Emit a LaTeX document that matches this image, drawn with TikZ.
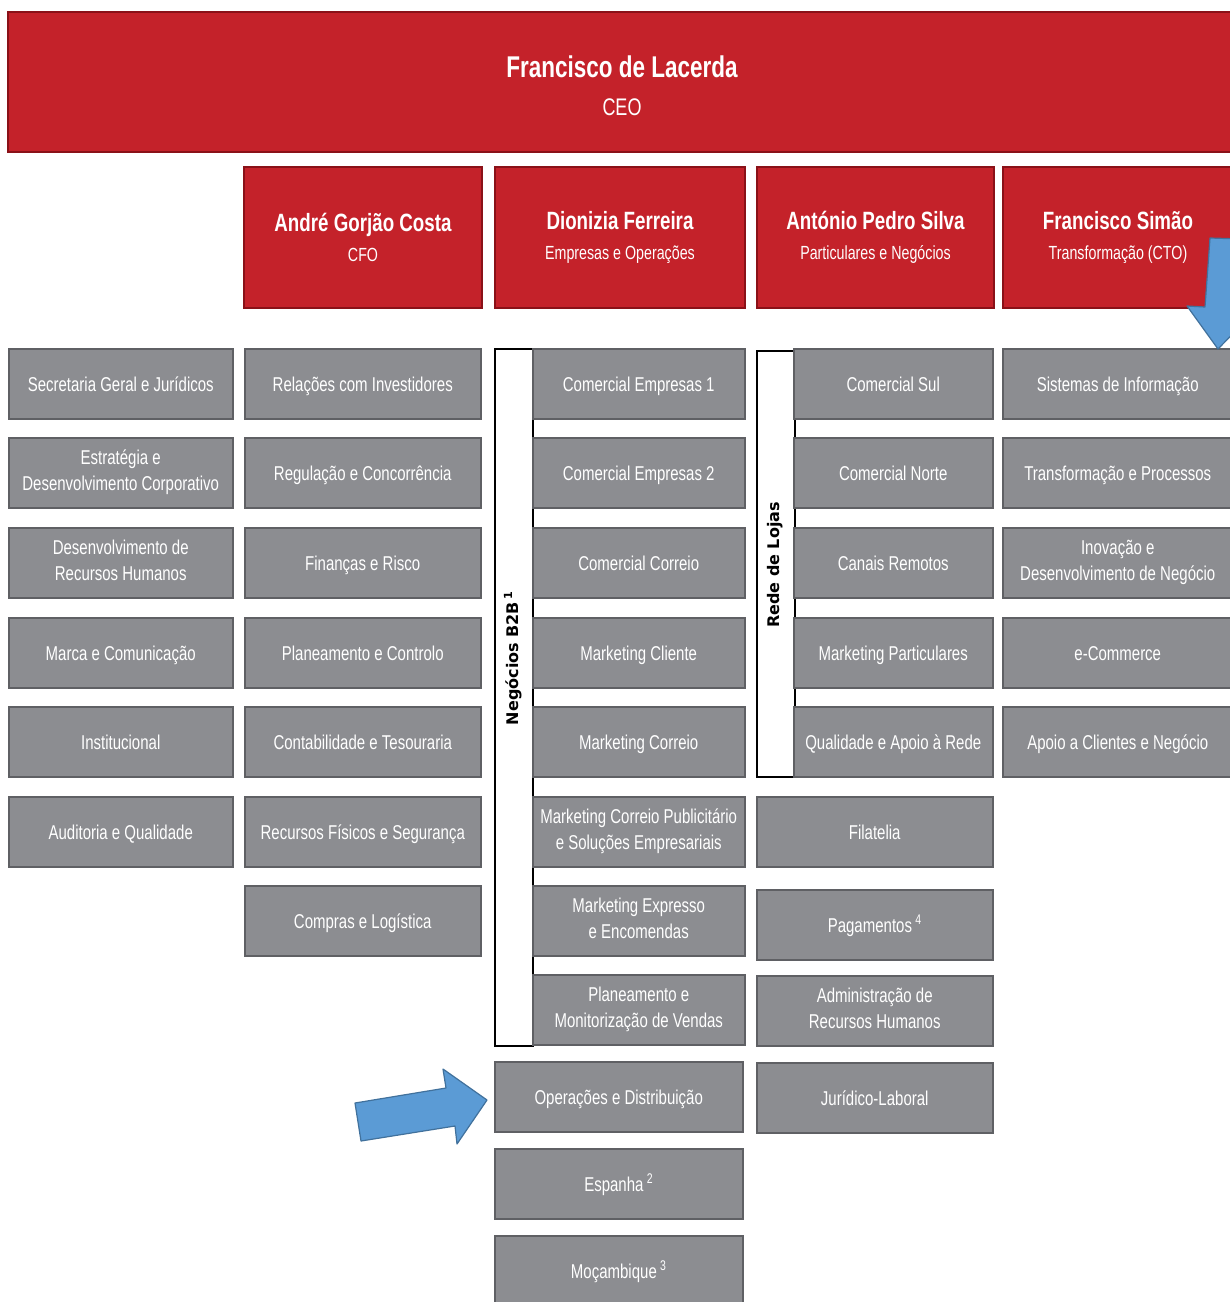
\documentclass[tikz,border=0pt]{standalone}
\usepackage{fontspec}
\setmainfont{Liberation Sans}[FakeStretch=0.75]
\newfontfamily\stripfont{DejaVu Sans}
\usepackage{xcolor}
\usepackage{tikz}
\definecolor{clrRed}{HTML}{C4222A}
\definecolor{clrRedDk}{HTML}{8A1118}
\definecolor{clrGrey}{HTML}{8C8D91}
\definecolor{clrGreyDk}{HTML}{5F6064}
\definecolor{clrBlue}{HTML}{5B9BD5}
\definecolor{clrBlueDk}{HTML}{41719C}
\tikzset{
  topbox/.style={rectangle, fill=clrRed, draw=clrRedDk, line width=2pt,
    text=white, align=center, inner sep=0pt},
  execbox/.style={topbox, anchor=north west, minimum height=141pt,
    font=\fontsize{19}{30}\selectfont},
  unitbox/.style={rectangle, fill=clrGrey, draw=clrGreyDk, line width=1.5pt,
    text=white, align=center, anchor=north west, minimum height=70pt,
    inner sep=0pt, font=\fontsize{20}{26}\selectfont,
    execute at begin node={\rule{0pt}{20pt}},
    execute at end node={\rule[-5pt]{0pt}{5pt}}},
  stripbox/.style={rectangle, fill=white, draw=black, line width=1.5pt,
    anchor=north west, minimum width=38pt, inner sep=0pt},
  striplabel/.style={rotate=90, inner sep=0pt,
    font=\stripfont\bfseries\fontsize{16}{18}\selectfont},
  pointer/.style={fill=clrBlue, draw=clrBlueDk, line width=1.2pt,
    line join=round},
}
\newcommand{\execname}[1]{{\fontsize{25}{30}\selectfont\bfseries #1}}

\begin{document}
\begin{tikzpicture}[x=1pt, y=-1pt]
\useasboundingbox (0,0) rectangle (1230,1302);

% Spalten (linke Kante, in px des Originals)
\def\xA{8}
\def\xB{244}
\def\xC{494}  % Streifen Negocios B2B
\def\xCb{532}
\def\xD{756}  % Streifen Rede de Lojas
\def\xDb{793}
\def\xE{1002}

% Zeilen (Oberkante)
\def\rA{348}
\def\rB{437}
\def\rC{527}
\def\rD{617}
\def\rE{706}
\def\rF{796}
\def\rG{885}
\def\rH{974}
\def\rI{1061}
\def\rJ{1148}
\def\rK{1235}

% CEO
\node[topbox, minimum width=1228pt, minimum height=140pt,
      font=\fontsize{24}{38}\selectfont] (ceo) at (622,82)
  {\rule{0pt}{29pt}{\fontsize{30}{34}\selectfont\bfseries Francisco de Lacerda}\\CEO};

% Vorstand
\node[execbox, minimum width=238pt] (cfo) at (243,166)
  {\execname{André Gorjão Costa}\\CFO};
\node[execbox, minimum width=250pt] (emp) at (494,166)
  {\execname{Dionizia Ferreira}\\Empresas e Operações};
\node[execbox, minimum width=237pt] (par) at (756,166)
  {\execname{António Pedro Silva}\\Particulares e Negócios};
\node[execbox, minimum width=230pt] (cto) at (1002,166)
  {\execname{Francisco Simão}\\Transformação (CTO)};

% Streifen fuer die Gruppen
\node[stripbox, minimum height=697pt] (b2b) at (\xC,\rA) {};
\node[striplabel] (b2blab) at (513,658) {Negócios B2B\,\textsuperscript{1}};
\node[stripbox, minimum height=426pt] (lojas) at (\xD,350) {};
\node[striplabel] (lojaslab) at (775,565) {Rede de Lojas};

% Spalte CEO
\foreach \i/\yy/\txt in {1/\rA/Secretaria Geral e Jurídicos,
    2/\rB/{Estratégia e\\Desenvolvimento Corporativo},
    3/\rC/{Desenvolvimento de\\Recursos Humanos},
    4/\rD/Marca e Comunicação,
    5/\rE/Institucional,
    6/\rF/Auditoria e Qualidade}
  \node[unitbox, minimum width=224pt] (a\i) at (\xA,\yy) {\txt};

% Spalte CFO
\foreach \i/\yy/\txt in {1/\rA/Relações com Investidores,
    2/\rB/Regulação e Concorrência,
    3/\rC/Finanças e Risco,
    4/\rD/Planeamento e Controlo,
    5/\rE/Contabilidade e Tesouraria,
    6/\rF/Recursos Físicos e Segurança,
    7/\rG/Compras e Logística}
  \node[unitbox, minimum width=236pt] (b\i) at (\xB,\yy) {\txt};

% Spalte Empresas e Operacoes
\foreach \i/\yy/\txt in {1/\rA/Comercial Empresas 1,
    2/\rB/Comercial Empresas 2,
    3/\rC/Comercial Correio,
    4/\rD/Marketing Cliente,
    5/\rE/Marketing Correio,
    6/\rF/{Marketing Correio Publicitário\\e Soluções Empresariais},
    7/\rG/{Marketing Expresso\\e Encomendas},
    8/\rH/{Planeamento e\\Monitorização de Vendas}}
  \node[unitbox, minimum width=212pt] (c\i) at (\xCb,\yy) {\txt};
\foreach \i/\yy/\txt in {9/\rI/Operações e Distribuição,
    10/\rJ/Espanha\,\textsuperscript{2},
    11/\rK/Moçambique\,\textsuperscript{3}}
  \node[unitbox, minimum width=248pt] (c\i) at (\xC,\yy) {\txt};

% Spalte Particulares e Negocios
\foreach \i/\yy/\txt in {1/\rA/Comercial Sul,
    2/\rB/Comercial Norte,
    3/\rC/Canais Remotos,
    4/\rD/Marketing Particulares,
    5/\rE/Qualidade e Apoio à Rede}
  \node[unitbox, minimum width=199pt] (d\i) at (\xDb,\yy) {\txt};
\foreach \i/\yy/\txt in {6/796/Filatelia,
    7/889/Pagamentos\,\textsuperscript{4},
    8/975/{Administração de\\Recursos Humanos},
    9/1062/Jurídico-Laboral}
  \node[unitbox, minimum width=236pt] (d\i) at (\xD,\yy) {\txt};

% Spalte CTO
\foreach \i/\yy/\txt in {1/\rA/Sistemas de Informação,
    2/\rB/Transformação e Processos,
    3/\rC/{Inovação e\\Desenvolvimento de Negócio},
    4/\rD/e-Commerce,
    5/\rE/Apoio a Clientes e Negócio}
  \node[unitbox, minimum width=230pt] (e\i) at (\xE,\yy) {\txt};

% blaue Pfeile
\draw[pointer] (1210,238) -- (1205,307) -- (1187,306) -- (1218,349)
  -- (1255,311) -- (1237,309) -- (1242,239) -- cycle;
\draw[pointer] (355,1103) -- (446,1088) -- (443,1069) -- (487,1100)
  -- (457,1144) -- (455,1126) -- (361,1141) -- cycle;

\end{tikzpicture}
\end{document}
